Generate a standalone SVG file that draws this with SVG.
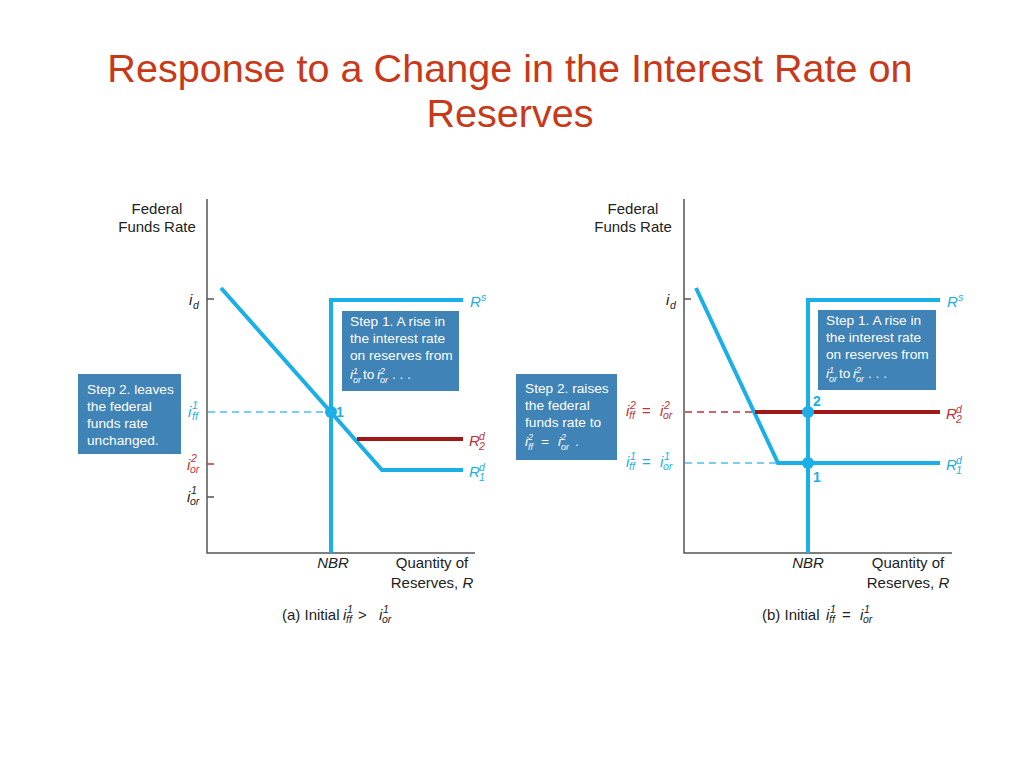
<svg xmlns="http://www.w3.org/2000/svg" width="1024" height="768" viewBox="0 0 1024 768">
<style>
text { font-family: "Liberation Sans", Arial, "DejaVu Sans", sans-serif; }
.title { fill: #C8391A; font-size: 39.6px; text-anchor: middle; }
.ax { fill: #222; font-size: 15px; }
.mid { text-anchor: middle; }
.it { font-style: italic; }
.sc { font-size: 10.5px; font-style: italic; }
.ss { font-size: 9px; font-style: italic; fill: #fff; }
.cy { fill: #1AAFE6; }
.rd { fill: #C0313A; }
.wt { fill: #fff; font-size: 13.7px; }
.box { fill: #3F83B7; }
.axis { stroke: #555; stroke-width: 1.5; fill: none; }
.tick { stroke: #555; stroke-width: 1.5; }
.tickr { stroke: #C0313A; stroke-width: 1.5; }
.cline { stroke: #1AAFE6; stroke-width: 4; fill: none; stroke-linejoin: miter; }
.rline { stroke: #A01818; stroke-width: 4; fill: none; }
.cdash { stroke: #4CC0EC; stroke-width: 1.5; stroke-dasharray: 7 5; }
.rdash { stroke: #C0313A; stroke-width: 1.5; stroke-dasharray: 7 5; }
.dot { fill: #1AAFE6; }
.num { fill: #1AAFE6; font-size: 14px; font-weight: bold; }
</style>

<g id="title">
<text class="title" x="510" y="82">Response to a Change in the Interest Rate on</text>
<text class="title" x="510" y="127">Reserves</text>
</g>

<!-- Panel (a) -->
<g id="panel-a">
<g id="a-axes">
<path class="axis" d="M207 199 V553 H475"/>
<line class="tick" x1="207" y1="299" x2="214" y2="299"/>
<line class="tickr" x1="207" y1="464" x2="214" y2="464"/>
<line class="tick" x1="207" y1="497" x2="214" y2="497"/>
<text class="ax mid" x="157" y="214">Federal</text>
<text class="ax mid" x="157" y="232">Funds Rate</text>
<text class="ax mid it" x="333" y="568">NBR</text>
<text class="ax mid" x="432" y="568">Quantity of</text>
<text class="ax mid" x="432" y="588">Reserves, <tspan class="it">R</tspan></text>
</g>
<g id="a-ylabels">
<text class="ax it" x="189" y="305">i</text><text class="sc" fill="#222" x="193" y="309">d</text>
<text class="ax it cy" x="188" y="417">i</text><text class="sc cy" x="192" y="409">1</text><text class="sc cy" x="192" y="420">ff</text>
<text class="ax it rd" x="187" y="470">i</text><text class="sc rd" x="191" y="462">2</text><text class="sc rd" x="190" y="473">or</text>
<text class="ax it" x="187" y="502">i</text><text class="sc" fill="#222" x="191" y="494">1</text><text class="sc" fill="#222" x="190" y="505">or</text>
</g>
<g id="a-connectors">
<line class="cdash" x1="208" y1="412" x2="331" y2="412"/>
<polyline class="cline" points="331,553 331,300 463,300"/>
<polyline class="cline" points="221,288 382,470 463,470"/>
<line class="rline" x1="357" y1="439" x2="463" y2="439"/>
</g>
<g id="a-point1">
<circle class="dot" cx="331" cy="412" r="6"/>
<text class="num" x="336" y="417">1</text>
</g>
<g id="a-curve-labels">
<text class="ax it cy" x="470" y="307">R</text><text class="sc cy" x="481" y="301">s</text>
<text class="ax it rd" x="469" y="446">R</text><text class="sc rd" x="479" y="440">d</text><text class="sc rd" x="479" y="450">2</text>
<text class="ax it cy" x="469" y="477">R</text><text class="sc cy" x="479" y="471">d</text><text class="sc cy" x="479" y="481">1</text>
</g>
<g id="a-step1">
<rect class="box" x="342" y="311" width="117" height="80"/>
<text class="wt" x="350" y="326">Step 1. A rise in</text>
<text class="wt" x="350" y="343">the interest rate</text>
<text class="wt" x="350" y="360">on reserves from</text>
<text class="wt it" x="350" y="379">i</text><text class="ss" x="353" y="374">1</text><text class="ss" x="353" y="383">or</text>
<text class="wt" x="363" y="379">to</text>
<text class="wt it" x="377" y="379">i</text><text class="ss" x="380" y="374">2</text><text class="ss" x="380" y="383">or</text>
<text class="wt" x="392" y="379">. . .</text>
</g>
<g id="a-step2">
<rect class="box" x="78" y="374" width="103" height="80"/>
<text class="wt" x="87" y="394">Step 2. leaves</text>
<text class="wt" x="87" y="411">the federal</text>
<text class="wt" x="87" y="428">funds rate</text>
<text class="wt" x="87" y="445">unchanged.</text>
</g>
<g id="a-caption">
<text class="ax" x="282" y="620">(a) Initial</text>
<text class="ax it" x="343" y="620">i</text><text class="sc" fill="#222" x="347" y="613">1</text><text class="sc" fill="#222" x="346" y="623">ff</text>
<text class="ax" x="358" y="620">&gt;</text>
<text class="ax it" x="379" y="620">i</text><text class="sc" fill="#222" x="383" y="613">1</text><text class="sc" fill="#222" x="382" y="623">or</text>
</g>
</g>

<!-- Panel (b) -->
<g id="panel-b">
<g id="b-axes">
<path class="axis" d="M684 199 V553 H952"/>
<line class="tick" x1="684" y1="299" x2="691" y2="299"/>
<text class="ax mid" x="633" y="214">Federal</text>
<text class="ax mid" x="633" y="232">Funds Rate</text>
<text class="ax mid it" x="808" y="568">NBR</text>
<text class="ax mid" x="908" y="568">Quantity of</text>
<text class="ax mid" x="908" y="588">Reserves, <tspan class="it">R</tspan></text>
</g>
<g id="b-ylabels">
<text class="ax it" x="666" y="305">i</text><text class="sc" fill="#222" x="670" y="309">d</text>
<text class="ax it rd" x="626" y="416">i</text><text class="sc rd" x="630" y="409">2</text><text class="sc rd" x="629" y="419">ff</text>
<text class="ax rd" x="642" y="416">=</text>
<text class="ax it rd" x="660" y="416">i</text><text class="sc rd" x="664" y="409">2</text><text class="sc rd" x="663" y="419">or</text>
<text class="ax it cy" x="626" y="467">i</text><text class="sc cy" x="630" y="460">1</text><text class="sc cy" x="629" y="470">ff</text>
<text class="ax cy" x="642" y="467">=</text>
<text class="ax it cy" x="660" y="467">i</text><text class="sc cy" x="664" y="460">1</text><text class="sc cy" x="663" y="470">or</text>
</g>
<g id="b-connectors">
<line class="rdash" x1="685" y1="412" x2="755" y2="412"/>
<line class="cdash" x1="685" y1="463" x2="778" y2="463"/>
<polyline class="cline" points="808,553 808,300 940,300"/>
<polyline class="cline" points="696,288 778,463 940,463"/>
<line class="rline" x1="755" y1="412" x2="940" y2="412"/>
</g>
<g id="b-point2">
<circle class="dot" cx="808" cy="412" r="6"/>
<text class="num" x="813" y="406">2</text>
</g>
<g id="b-point1">
<circle class="dot" cx="808" cy="463" r="6"/>
<text class="num" x="813" y="482">1</text>
</g>
<g id="b-curve-labels">
<text class="ax it cy" x="947" y="307">R</text><text class="sc cy" x="958" y="301">s</text>
<text class="ax it rd" x="946" y="419">R</text><text class="sc rd" x="956" y="413">d</text><text class="sc rd" x="956" y="423">2</text>
<text class="ax it cy" x="946" y="470">R</text><text class="sc cy" x="956" y="464">d</text><text class="sc cy" x="956" y="474">1</text>
</g>
<g id="b-step1">
<rect class="box" x="818" y="310" width="118" height="80"/>
<text class="wt" x="826" y="325">Step 1. A rise in</text>
<text class="wt" x="826" y="342">the interest rate</text>
<text class="wt" x="826" y="359">on reserves from</text>
<text class="wt it" x="826" y="378">i</text><text class="ss" x="829" y="373">1</text><text class="ss" x="829" y="382">or</text>
<text class="wt" x="839" y="378">to</text>
<text class="wt it" x="853" y="378">i</text><text class="ss" x="856" y="373">2</text><text class="ss" x="856" y="382">or</text>
<text class="wt" x="868" y="378">. . .</text>
</g>
<g id="b-step2">
<rect class="box" x="516" y="374" width="101" height="86"/>
<text class="wt" x="525" y="393">Step 2. raises</text>
<text class="wt" x="525" y="410">the federal</text>
<text class="wt" x="525" y="427">funds rate to</text>
<text class="wt it" x="525" y="446">i</text><text class="ss" x="528" y="440">2</text><text class="ss" x="528" y="450">ff</text>
<text class="wt" x="541" y="446">=</text>
<text class="wt it" x="558" y="446">i</text><text class="ss" x="561" y="440">2</text><text class="ss" x="561" y="450">or</text>
<text class="wt" x="575" y="446">.</text>
</g>
<g id="b-caption">
<text class="ax" x="762" y="620">(b) Initial</text>
<text class="ax it" x="826" y="620">i</text><text class="sc" fill="#222" x="830" y="613">1</text><text class="sc" fill="#222" x="829" y="623">ff</text>
<text class="ax" x="842" y="620">=</text>
<text class="ax it" x="860" y="620">i</text><text class="sc" fill="#222" x="864" y="613">1</text><text class="sc" fill="#222" x="863" y="623">or</text>
</g>
</g>
</svg>
